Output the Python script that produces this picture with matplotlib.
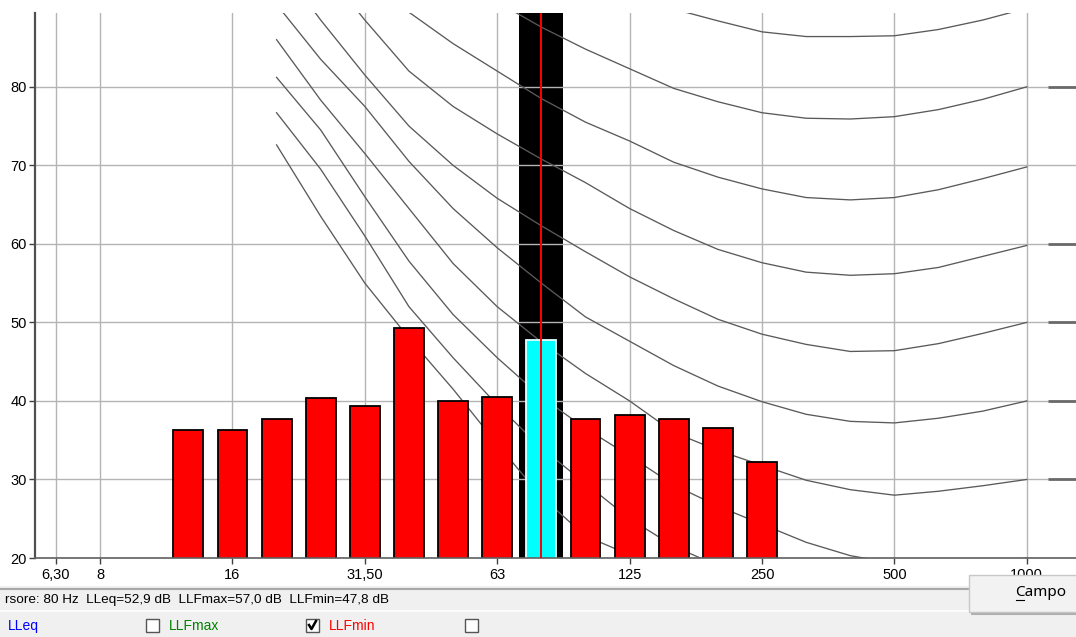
import numpy as np
import matplotlib
matplotlib.use('Agg')
import matplotlib.pyplot as plt
from matplotlib.patches import Rectangle
from matplotlib.lines import Line2D
from matplotlib.ticker import NullLocator

plt.rcParams['font.family'] = ['Liberation Sans', 'DejaVu Sans']

# --- dati ---------------------------------------------------------------
# bande 1/3 ottava (valori nominali) e livelli LLFmin
bande = [12.5, 16, 20, 25, 31.5, 40, 50, 63, 80, 100, 125, 160, 200, 250]
llf_min = [36.3, 36.3, 37.7, 40.4, 39.4, 49.3, 40.0, 40.5, 47.8, 37.7, 38.2, 37.7, 36.5, 32.2]
cursore = 80
lleq_cur, llfmax_cur, llfmin_cur = 52.9, 57.0, 47.8

# curve isofoniche
freq_curve = [20, 25, 31.5, 40, 50, 63, 80, 100, 125, 160, 200, 250, 315, 400, 500, 630, 800, 1000]
iso_soglia = [72.6, 63.5, 55.0, 48.0, 41.5, 34.5, 27.8, 22.8, 20.4, 17.5, 14.5, 12.0, 10.0, 8.0, 6.5, 5.0, 4.0, 3.0]
iso_10 = [76.7, 69.5, 61.0, 52.0, 45.5, 39.5, 34.0, 29.5, 25.0, 21.5, 19.0, 16.5, 14.5, 13.0, 12.0, 11.0, 10.5, 10.0]
iso_20 = [81.2, 74.5, 66.0, 57.8, 51.0, 45.5, 40.5, 36.5, 33.0, 29.3, 26.6, 24.3, 22.0, 20.3, 19.3, 19.0, 19.3, 20.0]
iso_30 = [86.0, 78.3, 71.5, 64.5, 57.5, 52.0, 47.5, 43.5, 40.0, 36.0, 33.7, 31.8, 29.9, 28.7, 28.0, 28.5, 29.2, 30.0]
iso_40 = [90.5, 83.5, 77.5, 70.5, 64.5, 59.5, 55.0, 50.7, 47.6, 44.5, 41.9, 39.9, 38.3, 37.4, 37.2, 37.8, 38.7, 40.0]
iso_50 = [96.0, 88.5, 81.5, 75.0, 70.0, 65.8, 62.3, 59.0, 55.8, 53.0, 50.4, 48.5, 47.2, 46.3, 46.4, 47.3, 48.6, 50.0]
iso_60 = [102.0, 95.5, 88.5, 82.0, 77.5, 74.0, 70.8, 67.8, 64.5, 61.7, 59.3, 57.6, 56.4, 56.0, 56.2, 57.0, 58.4, 59.8]
iso_70 = [110.0, 103.0, 96.5, 89.5, 85.5, 82.0, 78.5, 75.5, 73.1, 70.4, 68.5, 67.0, 65.9, 65.6, 65.9, 66.9, 68.3, 69.8]
iso_80 = [118.0, 111.0, 104.0, 98.0, 93.5, 90.8, 87.6, 84.8, 82.3, 79.8, 78.1, 76.7, 76.0, 75.9, 76.2, 77.1, 78.4, 80.0]
iso_90 = [126.0, 119.0, 112.0, 106.0, 102.0, 99.0, 97.0, 95.5, 92.5, 89.9, 88.4, 87.0, 86.4, 86.4, 86.5, 87.3, 88.5, 90.0]
curve = [iso_soglia, iso_10, iso_20, iso_30, iso_40, iso_50, iso_60, iso_70, iso_80, iso_90]

# trattini a destra (oltre 1 kHz)
livelli_trattini = [80, 60, 50, 40, 30]

tick_freq = [6.3, 8, 16, 31.5, 63, 125, 250, 500, 1000]
tick_lab = ['6,30', '8', '16', '31,50', '63', '125', '250', '500', '1000']
y_ticks = [20, 30, 40, 50, 60, 70, 80]

legenda = ['LLeq', 'LLFmax', 'LLFmin', '']
col_leg = ['#0000ff', '#008000', '#ff0000', 'black']


def esatta(f):
    # frequenza di banda in base 2 (come la usa il programma)
    f = np.asarray(f, dtype=float)
    return 2.0 ** (np.round(3 * np.log2(f)) / 3)


W, H = 1076, 637
fig = plt.figure(figsize=(W / 100, H / 100), dpi=100)
fig.patch.set_facecolor('white')


def fx(px):
    return px / W


def fy(py):
    return 1 - py / H


# pannello grigio in basso
fig.add_artist(Rectangle((0, 0), 1, fy(586), transform=fig.transFigure,
                         facecolor='#f0f0f0', edgecolor='none', zorder=0))
fig.add_artist(Line2D([0, 1], [fy(589), fy(589)], transform=fig.transFigure,
                      color='#a8a8a8', lw=1.5, zorder=1))
fig.add_artist(Line2D([0, 1], [fy(611), fy(611)], transform=fig.transFigure,
                      color='white', lw=1.2, zorder=1))

ax = fig.add_axes([fx(35), fy(558), fx(1076) - fx(35), fy(13) - fy(558)])
ax.set_xscale('log', base=2)
ax.set_xlim(5.69, 1325)
ax.set_ylim(20, 89.4)
ax.set_axisbelow(True)
ax.grid(True, which='major', color='#b4b4b4', lw=1)

# banda del cursore
fc = float(esatta(cursore))
ax.axvspan(fc / 2 ** (1 / 6), fc * 2 ** (1 / 6), color='black', zorder=0.3, lw=0)

fcx = esatta(freq_curve)
for c in curve:
    ax.plot(fcx, c, color='#5a5a5a', lw=0.95, zorder=1)
ax.hlines(livelli_trattini, 1145, 1400, color='#6a6a6a', lw=2, zorder=1)

# barre
fb = esatta(bande)
mezza = 0.113
sx = fb * 2 ** (-mezza)
dx = fb * 2 ** mezza
colori = ['#00ffff' if b == cursore else '#ff0000' for b in bande]
bordi = ['#e8ffff' if b == cursore else 'black' for b in bande]
ax.bar(sx, llf_min, width=dx - sx, align='edge', color=colori,
       edgecolor=bordi, linewidth=1.3, zorder=2)
ax.axvline(fc, color='#ff0000', lw=1.4, zorder=3)

ax.set_xticks(esatta(tick_freq))
ax.set_xticklabels(tick_lab)
ax.xaxis.set_minor_locator(NullLocator())
ax.set_yticks(y_ticks)
ax.tick_params(axis='both', direction='out', length=4, width=1,
               colors='#404040', labelcolor='black', labelsize=10.5)
ax.tick_params(axis='y', pad=2)
ax.tick_params(axis='x', pad=3)
for s in ['top', 'right']:
    ax.spines[s].set_visible(False)
ax.spines['left'].set_color('#505050')
ax.spines['left'].set_linewidth(1.6)
ax.spines['bottom'].set_color('#606060')
ax.spines['bottom'].set_linewidth(1.2)

# riga di stato: nello screenshot si vede solo da "rsore:" in poi
stato = ('rsore: %d Hz  LLeq=%s dB  LLFmax=%s dB  LLFmin=%s dB' %
         (cursore, ('%.1f' % lleq_cur).replace('.', ','),
          ('%.1f' % llfmax_cur).replace('.', ','),
          ('%.1f' % llfmin_cur).replace('.', ',')))
fig.text(fx(5), fy(600), stato, fontsize=9.7, va='center', ha='left')

# legenda con caselle
x_testo = [8, 169, 329, None]
x_box = [None, 146, 306, 465]
for lab, col, xt, xb in zip(legenda, col_leg, x_testo, x_box):
    if xt is not None and lab:
        fig.text(fx(xt), fy(626), lab, color=col, fontsize=10, va='center')
    if xb is not None:
        fig.add_artist(Rectangle((fx(xb), fy(632)), fx(13), 13 / H,
                                 transform=fig.transFigure, facecolor='white',
                                 edgecolor='#555555', lw=1, zorder=2))
        if lab == 'LLFmin':
            fig.add_artist(Line2D([fx(xb + 3), fx(xb + 5.5), fx(xb + 10)],
                                  [fy(625), fy(629), fy(621)],
                                  transform=fig.transFigure, color='black',
                                  lw=1.8, zorder=3))

# menu "Campo"
fig.add_artist(Rectangle((fx(969), fy(612)), fx(120), 37 / H,
                         transform=fig.transFigure, facecolor='#f2f2f2',
                         edgecolor='#c8c8c8', lw=1, zorder=4))
fig.add_artist(Line2D([fx(972), 1], [fy(613.5), fy(613.5)],
                      transform=fig.transFigure, color='#b0b0b0', lw=1.5, zorder=4))
fig.text(fx(1015), fy(593), 'Campo', fontsize=11, va='center',
         family=['Noto Sans', 'DejaVu Sans'], zorder=5)
fig.add_artist(Line2D([fx(1016), fx(1024)], [fy(600), fy(600)],
                      transform=fig.transFigure, color='black', lw=0.8, zorder=5))

fig.savefig('out.png', dpi=100)
